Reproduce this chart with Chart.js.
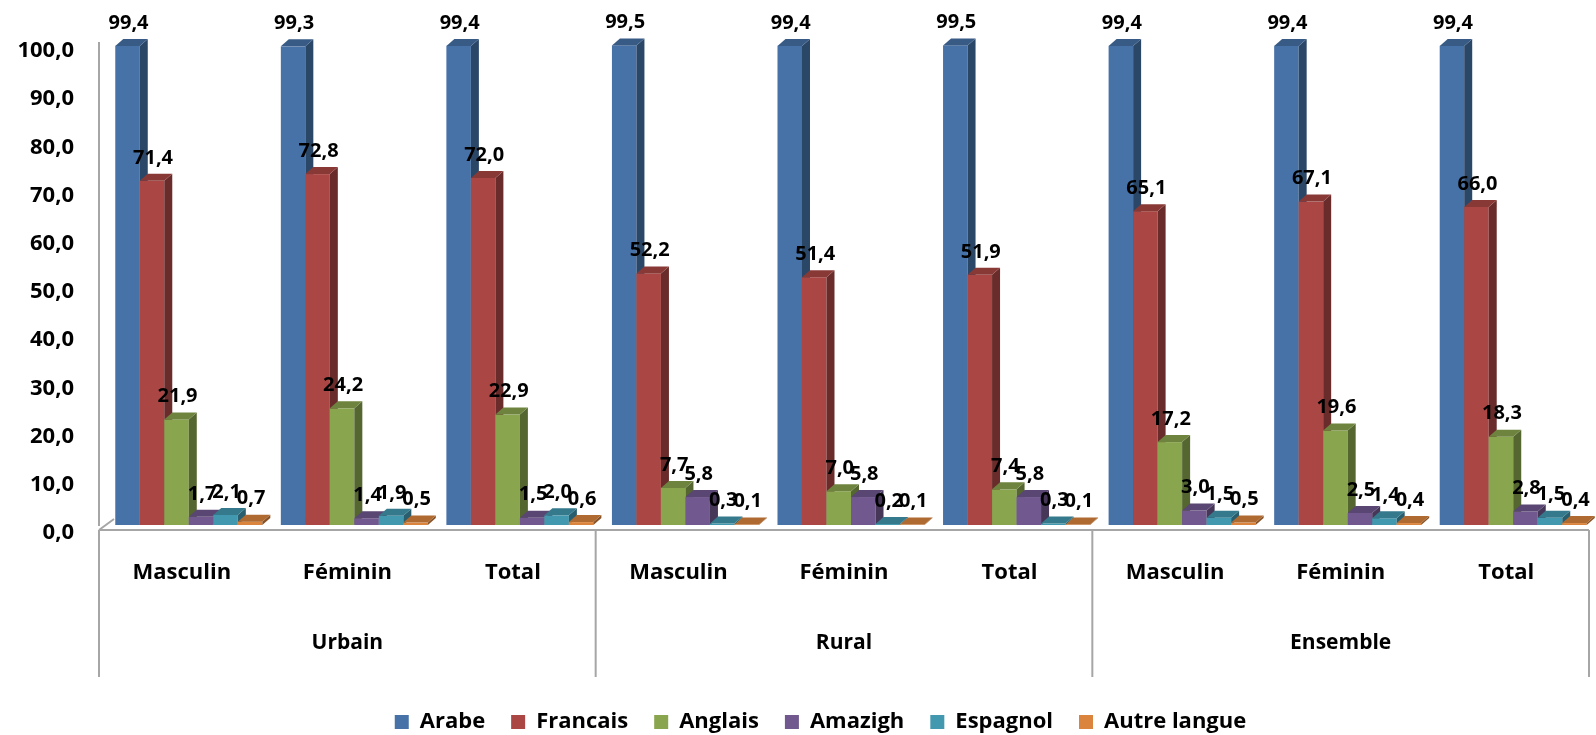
<!DOCTYPE html>
<html><head><meta charset="utf-8">
<script src="https://cdn.jsdelivr.net/npm/chart.js@4"></script>
<style>html,body{margin:0;padding:0;background:#fff}</style>
</head><body>
<canvas id="c" width="1596" height="735"></canvas>
<script>
const categories = ['Masculin','Féminin','Total','Masculin','Féminin','Total','Masculin','Féminin','Total'];
const groups = ['Urbain','Rural','Ensemble'];
const seriesNames = ['Arabe','Francais','Anglais','Amazigh','Espagnol','Autre langue'];
const arabe    = [99.4, 99.3, 99.4, 99.5, 99.4, 99.5, 99.4, 99.4, 99.4];
const francais = [71.4, 72.8, 72.0, 52.2, 51.4, 51.9, 65.1, 67.1, 66.0];
const anglais  = [21.9, 24.2, 22.9, 7.7, 7.0, 7.4, 17.2, 19.6, 18.3];
const amazigh  = [1.7, 1.4, 1.5, 5.8, 5.8, 5.8, 3.0, 2.5, 2.8];
const espagnol = [2.1, 1.9, 2.0, 0.3, 0.2, 0.3, 1.5, 1.4, 1.5];
const autre    = [0.7, 0.5, 0.6, 0.1, 0.1, 0.1, 0.5, 0.4, 0.4];
const yTickValues = [0,10,20,30,40,50,60,70,80,90,100];
const colors = ['#4672A8','#AA4744','#89A54E','#71588F','#4198AF','#DB843D'];

const FONT = "'Open Sans', 'DejaVu Sans', sans-serif";
const SHIFT = 7, DX = 8, DY = 7;
const fmt = v => v.toFixed(1).replace('.', ',');

function shade(hex, f) {
  const n = parseInt(hex.slice(1), 16);
  const r = Math.round(((n >> 16) & 255) * f), g = Math.round(((n >> 8) & 255) * f), b = Math.round((n & 255) * f);
  return `rgb(${r},${g},${b})`;
}

const bars3d = {
  id: 'bars3d',
  afterLayout(chart) {
    if (chart.legend) {
      chart.legend.top += 8; chart.legend.bottom += 8;
      chart.legend.left += 26; chart.legend.right += 26;
    }
  },
  beforeDatasetsDraw(chart) {
    const ctx = chart.ctx, ca = chart.chartArea;
    const xs = chart.scales.x;
    ctx.save();
    ctx.strokeStyle = '#A6A6A6'; ctx.lineWidth = 2;
    ctx.beginPath();
    ctx.moveTo(ca.left, ca.bottom + 5); ctx.lineTo(ca.right, ca.bottom + 5);
    ctx.moveTo(ca.left, ca.bottom + 5); ctx.lineTo(ca.left + 15, ca.bottom - 6);
    ctx.stroke();
    const n = chart.data.labels.length;
    const bounds = [ca.left];
    for (let g = 1; g < groups.length; g++) {
      const i = g * 3;
      bounds.push((xs.getPixelForValue(i - 1) + xs.getPixelForValue(i)) / 2);
    }
    bounds.push(ca.right);
    ctx.beginPath();
    bounds.forEach(b => { ctx.moveTo(b, ca.bottom + 5); ctx.lineTo(b, ca.bottom + 152); });
    ctx.stroke();
    ctx.fillStyle = '#000';
    ctx.font = `bold 21px ${FONT}`;
    ctx.textAlign = 'center'; ctx.textBaseline = 'middle';
    groups.forEach((g, k) => ctx.fillText(g, (bounds[k] + bounds[k + 1]) / 2, ca.bottom + 118));

    const metas = chart.data.datasets.map((d, i) => chart.getDatasetMeta(i));
    for (let j = 0; j < n; j++) {
      metas.forEach((m, i) => {
        const el = m.data[j];
        const p = el.getProps(['x', 'y', 'base', 'width'], true);
        const l = p.x - p.width / 2 + SHIFT, r = p.x + p.width / 2 + SHIFT;
        const y = p.y, base = p.base;
        const col = chart.data.datasets[i].backgroundColor;
        ctx.fillStyle = col;
        ctx.fillRect(l, y, r - l, base - y);
        ctx.fillStyle = shade(col, 0.62);
        ctx.beginPath();
        ctx.moveTo(r, y); ctx.lineTo(r + DX, y - DY); ctx.lineTo(r + DX, base - DY); ctx.lineTo(r, base);
        ctx.closePath(); ctx.fill();
        ctx.fillStyle = shade(col, 0.8);
        ctx.beginPath();
        ctx.moveTo(l, y); ctx.lineTo(l + DX, y - DY); ctx.lineTo(r + DX, y - DY); ctx.lineTo(r, y);
        ctx.closePath(); ctx.fill();
      });
    }
    ctx.fillStyle = '#000';
    ctx.font = `bold 20px ${FONT}`;
    ctx.textAlign = 'center'; ctx.textBaseline = 'middle';
    metas.forEach((m, i) => {
      m.data.forEach((el, j) => {
        const p = el.getProps(['x', 'y'], true);
        ctx.fillText(fmt(chart.data.datasets[i].data[j]), p.x + SHIFT + 1, p.y - 23);
      });
    });
    ctx.restore();
    return false;
  }
};

const datasets = [arabe, francais, anglais, amazigh, espagnol, autre].map((d, i) => ({
  label: seriesNames[i],
  data: d,
  backgroundColor: colors[i],
  borderWidth: 0,
  barPercentage: 1,
  categoryPercentage: 0.888
}));

new Chart(document.getElementById('c'), {
  type: 'bar',
  data: { labels: categories, datasets },
  options: {
    responsive: false,
    animation: false,
    devicePixelRatio: 1,
    layout: { padding: { top: 43, right: 7, left: 0, bottom: 0 } },
    plugins: {
      tooltip: { enabled: false },
      legend: {
        position: 'bottom',
        labels: {
          boxWidth: 14, boxHeight: 14, padding: 26, color: '#000',
          font: { family: FONT, size: 22, weight: 'bold' }
        }
      }
    },
    scales: {
      x: {
        grid: { display: false, drawTicks: false },
        border: { display: false },
        ticks: { color: '#000', padding: 35, font: { family: FONT, size: 22, weight: 'bold' } },
        afterFit(s) { s.height = 152; }
      },
      y: {
        min: 0, max: 100,
        afterBuildTicks(s) { s.ticks = yTickValues.map(v => ({ value: v })); },
        grid: { display: false, drawTicks: false },
        border: { display: true, color: '#A6A6A6', width: 2 },
        ticks: {
          color: '#000', padding: 25, labelOffset: 8,
          font: { family: FONT, size: 22, weight: 'bold' },
          callback: v => fmt(v)
        },
        afterFit(s) { s.width = 99; }
      }
    }
  },
  plugins: [bars3d]
});
</script>
</body></html>
